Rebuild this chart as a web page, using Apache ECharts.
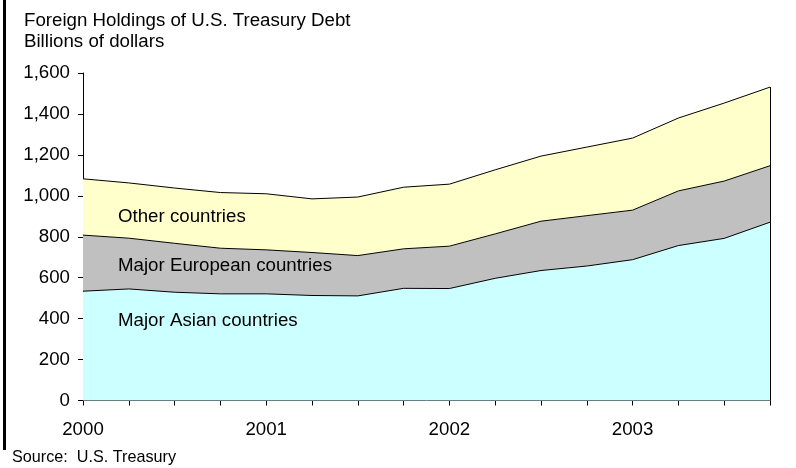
<!DOCTYPE html>
<html>
<head>
<meta charset="utf-8">
<script src="https://cdn.jsdelivr.net/npm/echarts@6/dist/echarts.min.js"></script>
<style>
  html, body { margin: 0; padding: 0; background: #fff; }
  #chart { width: 796px; height: 468px; }
</style>
</head>
<body>
<div id="chart"></div>
<script>
// Quarterly observations, 2000 Q1 – 2003 Q4
const quarters = [
  '2000Q1', '2000Q2', '2000Q3', '2000Q4',
  '2001Q1', '2001Q2', '2001Q3', '2001Q4',
  '2002Q1', '2002Q2', '2002Q3', '2002Q4',
  '2003Q1', '2003Q2', '2003Q3', '2003Q4'
];

// Billions of dollars held, by region
const majorAsian    = [534, 545, 529, 521, 521, 513, 511, 548, 547, 597, 635, 657, 688, 757, 792, 871];
const majorEuropean = [274, 248, 239, 223, 215, 210, 197, 193, 207, 217, 241, 246, 242, 267, 280, 276];
const otherCountries = [275, 270, 270, 272, 274, 262, 286, 301, 303, 313, 318, 335, 352, 356, 381, 384];

const yTicks = { min: 0, max: 1600, step: 200 };

const seriesNames = ['Major Asian countries', 'Major European countries', 'Other countries'];

const FONT = '"Liberation Sans", Arial, sans-serif';
const FS = 18.7;

const lastIdx = quarters.length - 1;
const lastTotal = majorAsian[lastIdx] + majorEuropean[lastIdx] + otherCountries[lastIdx];

const chart = echarts.init(document.getElementById('chart'), null, { renderer: 'canvas' });

function areaSeries(name, data, fill, extra) {
  return Object.assign({
    name: name,
    type: 'line',
    stack: 'holdings',
    data: data,
    symbol: 'none',
    silent: true,
    lineStyle: { color: '#000', width: 1 },
    areaStyle: { color: fill, opacity: 1 }
  }, extra || {});
}

chart.setOption({
  animation: false,
  backgroundColor: '#fff',
  textStyle: { fontFamily: FONT },
  grid: { left: 83, right: 26, top: 73, bottom: 67.5, containLabel: false },
  xAxis: {
    type: 'category',
    data: quarters,
    boundaryGap: false,
    axisLine: { lineStyle: { color: '#000', width: 1 } },
    axisTick: { show: true, interval: 0, length: 5, lineStyle: { color: '#000' } },
    axisLabel: {
      interval: 3,
      margin: 20,
      color: '#000',
      fontSize: FS,
      fontFamily: FONT,
      formatter: v => v.slice(0, 4)
    },
    splitLine: { show: false }
  },
  yAxis: {
    type: 'value',
    min: yTicks.min,
    max: yTicks.max,
    interval: yTicks.step,
    axisLine: { show: true, lineStyle: { color: '#000', width: 1 } },
    axisTick: { show: true, length: 5, lineStyle: { color: '#000' } },
    axisLabel: {
      margin: 13,
      color: '#000',
      fontSize: FS,
      fontFamily: FONT,
      formatter: v => v.toLocaleString('en-US')
    },
    splitLine: { show: false }
  },
  series: [
    areaSeries(seriesNames[0], majorAsian, '#CCFFFF'),
    areaSeries(seriesNames[1], majorEuropean, '#C0C0C0'),
    areaSeries(seriesNames[2], otherCountries, '#FFFFCC', {
      // closing edge on the right-hand side of the stacked area
      markLine: {
        silent: true,
        symbol: 'none',
        label: { show: false },
        lineStyle: { color: '#000', width: 1, type: 'solid' },
        data: [[
          { coord: [quarters[lastIdx], 0] },
          { coord: [quarters[lastIdx], lastTotal] }
        ]]
      }
    })
  ],
  graphic: [
    { type: 'rect', left: 3, top: 0, shape: { width: 3, height: 450 }, style: { fill: '#000' }, silent: true },
    { type: 'text', x: 24, y: 21, style: { text: 'Foreign Holdings of U.S. Treasury Debt', font: FS + 'px ' + FONT, fill: '#000', verticalAlign: 'middle' } },
    { type: 'text', x: 24, y: 42, style: { text: 'Billions of dollars', font: FS + 'px ' + FONT, fill: '#000', verticalAlign: 'middle' } },
    { type: 'text', x: 118, y: 216.5, z: 10, style: { text: seriesNames[2], font: FS + 'px ' + FONT, fill: '#000', verticalAlign: 'middle' } },
    { type: 'text', x: 118, y: 265.5, z: 10, style: { text: seriesNames[1], font: FS + 'px ' + FONT, fill: '#000', verticalAlign: 'middle' } },
    { type: 'text', x: 118, y: 320.5, z: 10, style: { text: seriesNames[0], font: FS + 'px ' + FONT, fill: '#000', verticalAlign: 'middle' } },
    { type: 'text', x: 12, y: 457.5, style: { text: 'Source:  U.S. Treasury', font: '16.2px ' + FONT, fill: '#000', verticalAlign: 'middle' } }
  ]
});
</script>
</body>
</html>
